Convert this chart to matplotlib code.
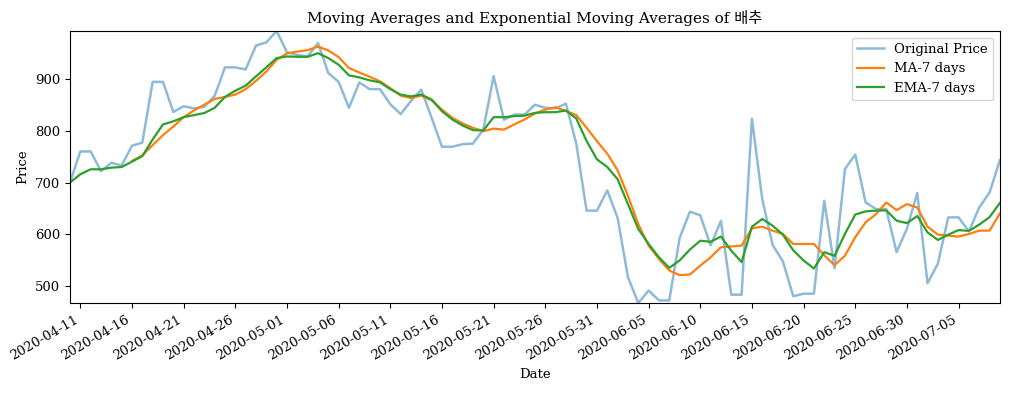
"""Moving averages vs. exponential moving averages for 배추 (cabbage) prices."""

import matplotlib

matplotlib.use("Agg")
import matplotlib.dates as mdates
import matplotlib.pyplot as plt
import numpy as np
import pandas as pd

plt.rcParams["font.family"] = ["DejaVu Serif", "Noto Sans CJK KR"]

START_DATE = "2020-04-10"
FIRST_TICK = "2020-04-11"
LAST_TICK = "2020-07-05"

# daily price
price = [
    700, 760, 760, 722, 738, 733, 771, 777, 894, 894,
    836, 847, 843, 846, 867, 922, 922, 918, 964, 970,
    992, 951, 946, 943, 969, 911, 894, 844, 893, 880,
    880, 851, 832, 857, 879, 825, 769, 769, 774, 775,
    802, 905, 821, 831, 831, 850, 844, 843, 852, 775,
    646, 646, 685, 632, 518, 468, 492, 473, 473, 593,
    644, 637, 579, 626, 484, 484, 823, 668, 580, 548,
    481, 486, 486, 665, 535, 726, 754, 662, 649, 649,
    566, 611, 680, 506, 544, 633, 633, 606, 652, 681,
    743,
]

# 7-day moving average (no value for the first six days)
ma_7 = [
    np.nan, np.nan, np.nan, np.nan, np.nan, np.nan, 741.6, 752.5, 772.0, 791.5,
    808.0, 826.0, 839.0, 850.0, 861.0, 865.0, 869.5, 880.0, 896.0, 914.0,
    936.5, 949.0, 952.5, 955.0, 962.0, 954.5, 941.7, 920.6, 912.0, 904.0,
    895.0, 882.0, 867.5, 863.0, 867.5, 858.6, 840.7, 824.7, 814.0, 805.5,
    799.0, 804.0, 802.0, 812.0, 821.5, 833.0, 840.7, 845.0, 838.0, 830.0,
    805.5, 780.0, 755.7, 723.7, 674.5, 620.0, 578.6, 553.0, 530.7, 521.7,
    523.0, 540.0, 556.0, 575.4, 577.0, 578.6, 612.0, 615.0, 607.4, 601.0,
    581.8, 581.8, 581.8, 560.0, 541.0, 559.0, 594.6, 623.4, 639.0, 661.7,
    647.0, 658.5, 652.0, 615.0, 599.7, 597.8, 596.0, 601.0, 607.4, 607.4,
    640.6,
]

# 7-day exponential moving average
ema_7 = [
    700.0, 716.0, 725.6, 725.6, 728.8, 730.0, 740.3, 751.0, 783.0, 812.0,
    818.0, 826.0, 830.0, 834.0, 844.0, 865.0, 877.0, 886.7, 904.6, 922.0,
    939.8, 943.0, 942.3, 942.3, 949.3, 939.8, 927.0, 906.5, 902.7, 897.0,
    893.0, 880.0, 869.5, 866.0, 869.5, 860.0, 837.5, 821.5, 810.0, 801.0,
    800.4, 826.0, 826.0, 828.0, 829.0, 834.3, 835.6, 835.6, 838.8, 823.4,
    780.0, 744.8, 730.0, 706.5, 658.5, 610.6, 581.8, 556.0, 535.8, 550.0,
    571.0, 588.0, 586.0, 596.0, 569.0, 546.7, 615.0, 629.8, 617.0, 599.7,
    569.5, 550.0, 534.5, 566.0, 559.0, 601.0, 638.5, 644.5, 646.0, 646.5,
    626.6, 622.0, 635.5, 604.0, 589.5, 599.7, 608.5, 607.0, 619.0, 633.5,
    660.8,
]


def main() -> None:
    dates = pd.date_range(START_DATE, periods=len(price), freq="D")

    fig, ax = plt.subplots(figsize=(10.1, 3.96), dpi=100)
    fig.subplots_adjust(left=0.0693, right=0.990, top=0.9217, bottom=0.2348)

    ax.plot(dates, price, color="#1f77b4", alpha=0.5, lw=1.8, label="Original Price")
    ax.plot(dates, ma_7, color="#ff7f0e", lw=1.6, label="MA-7 days")
    ax.plot(dates, ema_7, color="#2ca02c", lw=1.6, label="EMA-7 days")

    ax.margins(0)
    ax.set_xticks(pd.date_range(FIRST_TICK, LAST_TICK, freq="5D"))
    ax.xaxis.set_major_formatter(mdates.DateFormatter("%Y-%m-%d"))
    ax.set_yticks([500, 600, 700, 800, 900])
    for label in ax.get_xticklabels():
        label.set_rotation(30)
        label.set_ha("right")
    ax.tick_params(labelsize=9.5)

    ax.set_title("Moving Averages and Exponential Moving Averages of 배추", fontsize=11)
    ax.set_xlabel("Date", fontsize=9.5)
    ax.set_ylabel("Price", fontsize=9.5)
    ax.legend(loc="upper right", fontsize=9.5)

    fig.savefig("out.png", dpi=100)
    plt.close(fig)


if __name__ == "__main__":
    main()
